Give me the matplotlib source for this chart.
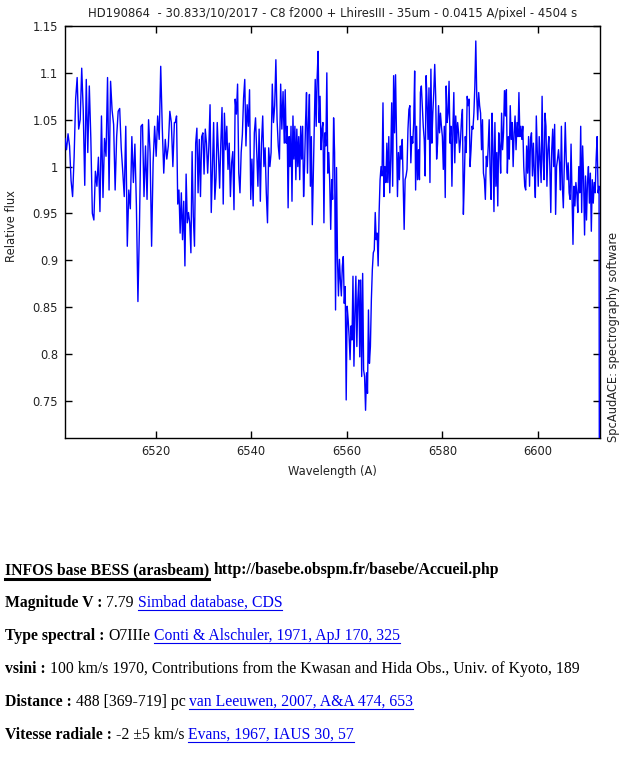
import numpy as np
import matplotlib
matplotlib.use('Agg')
import matplotlib.pyplot as plt
from matplotlib.lines import Line2D

W, H = 640, 770

# ---------------- data ----------------
seg1_range = (6501.0, 6523.9)
seg1_flux = [1.030, 1.018, 1.035, 1.022, 0.985, 0.968, 1.010, 1.072, 1.095, 1.040,
             1.050, 1.105, 1.060, 0.980, 1.093, 1.015, 1.086, 1.030, 0.950, 0.943,
             0.995, 0.979, 1.010, 0.952, 1.054, 0.967, 1.030, 1.011, 1.095, 0.975,
             1.091, 1.060, 1.045, 0.975, 1.032, 1.059, 1.062, 1.020, 0.995, 0.968,
             1.043, 0.915, 0.975, 0.955, 1.032, 0.983, 1.024, 0.958, 0.856, 0.936,
             1.043, 1.045, 0.968, 1.022, 0.965, 1.050, 1.015, 0.915, 1.004, 1.043,
             1.011, 1.054, 1.029, 1.107, 1.043, 0.993, 1.029, 1.008, 1.022, 1.059,
             1.047, 1.000, 1.047]

seg2_range = (6524.1, 6546.9)
seg2_flux = [1.047, 1.054, 0.960, 0.975, 0.929, 0.972, 0.922, 0.963, 0.894, 0.992,
             0.940, 0.951, 0.940, 0.908, 1.016, 0.947, 0.915, 1.025, 1.041, 0.972,
             1.029, 0.968, 1.032, 1.036, 0.992, 1.040, 1.025, 0.993, 1.022, 1.066,
             0.951, 1.000, 1.047, 0.965, 0.988, 1.047, 1.015, 0.977, 1.025, 1.063,
             0.960, 1.057, 1.018, 1.043, 0.997, 1.025, 0.968, 1.004, 1.016, 0.954,
             1.072, 1.056, 1.088, 0.993, 0.972, 1.015, 1.034, 1.073, 1.093, 1.022,
             1.066, 1.043, 1.082, 0.965, 1.008, 0.958, 1.036, 1.052, 1.015, 0.979,
             1.040, 0.963, 1.025, 1.054, 1.000, 1.020, 0.972, 0.940, 1.020, 1.000,
             1.015, 1.088, 1.047, 1.065, 1.114, 1.050, 1.022, 1.008, 1.088, 1.040,
             1.080, 1.025]

seg3_range = (6547.1, 6570.0)
seg3_flux = [1.082, 1.025, 1.043, 0.956, 1.032, 1.000, 1.043, 0.963, 1.054, 1.008,
             1.043, 0.986, 1.040, 1.000, 1.032, 0.986, 1.043, 1.008, 1.043, 0.968,
             1.000, 1.047, 1.079, 0.993, 1.047, 1.077, 0.979, 1.032, 0.938, 0.990,
             1.043, 1.093, 1.043, 1.095, 1.123, 1.047, 1.075, 1.018, 1.040, 1.047,
             0.940, 1.036, 1.022, 1.100, 0.993, 1.015, 0.983, 0.933, 0.986, 0.965,
             1.052, 1.015, 0.847, 0.999, 0.901, 0.862, 0.901, 0.879, 0.862, 0.894,
             0.904, 0.854, 0.872, 0.751, 0.851, 0.837, 0.819, 0.794, 0.830, 0.815,
             0.883, 0.787, 0.844, 0.883, 0.808, 0.858, 0.879, 0.797, 0.879, 0.776,
             0.886, 0.783, 0.776, 0.740, 0.780, 0.758, 0.847, 0.790, 0.808, 0.858,
             0.890, 0.908, 0.911, 0.951, 0.922, 0.929, 0.894, 0.951, 0.986, 1.000,
             0.990, 1.068, 0.968, 1.000, 0.983, 1.025, 0.983, 1.032, 0.972, 1.008,
             1.068, 0.979, 1.097, 1.036]

seg4_range = (6570.2, 6593.0)
seg4_flux = [1.098, 1.036, 0.968, 1.015, 0.986, 1.022, 1.008, 1.029, 0.979, 0.933,
             0.986, 0.990, 0.997, 1.040, 1.061, 1.065, 1.004, 1.032, 1.025, 1.047,
             1.102, 0.975, 1.043, 0.986, 1.018, 0.986, 1.079, 1.086, 1.065, 1.043,
             1.029, 0.990, 1.097, 1.068, 1.029, 1.084, 0.983, 1.104, 1.025, 1.057,
             1.079, 1.109, 1.075, 1.008, 1.025, 1.065, 1.036, 1.057, 1.043, 1.032,
             0.997, 1.043, 0.967, 1.086, 1.047, 1.057, 1.091, 1.025, 1.043, 0.979,
             1.040, 1.079, 1.004, 1.054, 1.025, 1.047, 1.036, 1.015, 1.029, 1.050,
             1.061, 0.949, 0.986, 1.032, 1.015, 1.075, 1.065, 1.072, 1.000, 1.018,
             1.043, 1.040, 1.057, 1.086, 1.134, 1.075, 1.050, 1.079, 1.065, 1.057,
             1.018, 1.050, 0.993, 0.986, 0.965, 1.011, 1.000, 1.022, 1.050, 0.993,
             0.965, 1.057, 1.018, 0.952, 1.047, 0.979, 1.015, 0.958, 1.036, 1.022,
             0.993, 1.057, 1.018, 1.036, 1.081]

seg5_range = (6593.2, 6612.8)
seg5_flux = [1.054, 1.082, 0.993, 1.032, 1.008, 1.065, 1.029, 1.047, 1.000, 1.036,
             1.054, 1.018, 1.047, 1.032, 1.079, 1.032, 1.043, 1.029, 1.043, 1.000,
             0.979, 0.975, 1.022, 0.993, 1.032, 0.979, 1.029, 1.036, 0.990, 1.025,
             0.993, 0.967, 1.054, 1.015, 0.979, 1.032, 1.008, 0.983, 1.075, 1.008,
             0.986, 1.057, 1.043, 0.979, 1.018, 1.032, 1.000, 0.951, 1.018, 1.040,
             1.000, 1.045, 0.949, 1.000, 1.008, 1.018, 1.004, 0.975, 1.043, 0.979,
             0.956, 1.000, 1.047, 1.008, 0.986, 1.004, 0.972, 0.965, 1.024, 0.972,
             0.917, 0.979, 0.958, 0.983, 0.972, 0.951, 1.000, 0.972, 1.043, 0.951,
             1.022, 0.986, 0.927, 0.990, 0.943, 0.983, 1.000, 0.961, 0.993, 0.931,
             0.986, 0.961, 0.983, 0.972, 1.008, 1.032, 0.972, 0.979]

end_wavelength = 6613.0
end_flux = 0.0

xticks = [6520, 6540, 6560, 6580, 6600]
xtick_labels = ['6520', '6540', '6560', '6580', '6600']
yticks = [0.75, 0.80, 0.85, 0.90, 0.95, 1.00, 1.05, 1.10, 1.15]
ytick_labels = ['0.75', '0.8', '0.85', '0.9', '0.95', '1', '1.05', '1.1', '1.15']

title = 'HD190864  - 30.833/10/2017 - C8 f2000 + LhiresIII - 35um - 0.0415 A/pixel - 4504 s'

segments = [(seg1_range, seg1_flux), (seg2_range, seg2_flux), (seg3_range, seg3_flux),
            (seg4_range, seg4_flux), (seg5_range, seg5_flux)]
wavelength = np.concatenate([np.linspace(r[0], r[1], len(f)) for r, f in segments]
                            + [[end_wavelength]])
flux = np.concatenate([np.asarray(f, float) for r, f in segments] + [[end_flux]])

# ---------------- figure ----------------
fig = plt.figure(figsize=(W / 100, H / 100), dpi=100)
fig.patch.set_facecolor('white')

L, R, T, B = 65, 600, 26, 438
ax = fig.add_axes([L / W, 1 - B / H, (R - L) / W, (B - T) / H])
ax.plot(wavelength, flux, color='#0000ff', lw=1.0, zorder=3)
ax.set_xlim(6501.0, 6613.0)
ax.set_ylim(0.7104, 1.15)
ax.set_xticks(xticks)
ax.set_xticklabels(xtick_labels)
ax.set_yticks(yticks)
ax.set_yticklabels(ytick_labels)
ax.tick_params(direction='in', length=5, width=1, top=True, right=True,
               labelsize=8.3, pad=5, colors='black', labelcolor='#222222')
for s in ax.spines.values():
    s.set_linewidth(1.0)
    s.set_color('black')

fig.text((L + R) / 2 / W, 1 - 13 / H, title, ha='center', va='center', fontsize=8.4,
         color='#222222')
fig.text(12 / W, 1 - 226 / H, 'Relative flux', rotation=90, ha='center', va='center',
         fontsize=8.3, color='#222222')
fig.text(332.5 / W, 1 - 471 / H, 'Wavelength (A)', ha='center', va='center',
         fontsize=8.3, color='#222222')
fig.text(614 / W, 1 - 442 / H, 'SpcAudACE: spectrography software', rotation=90,
         ha='center', va='bottom', fontsize=8.3, color='#222222')

# ---------------- info block ----------------
renderer = fig.canvas.get_renderer()
FS = 11.3
SPACE = 3.9
LINK = '#0000ee'


def text_line(y_base, parts):
    x = 5
    for txt, style in parts:
        kw = dict(fontfamily='Liberation Serif', fontsize=FS, va='baseline', ha='left')
        if style in ('b', 'bu'):
            kw['fontweight'] = 'bold'
            color = 'black'
        elif style == 'link':
            color = LINK
        else:
            color = 'black'
        t = fig.text(x / W, 1 - y_base / H, txt, color=color, **kw)
        bb = t.get_window_extent(renderer)
        x0, x1 = bb.x0, bb.x1
        if style == 'link':
            yy = (H - y_base - 2.5) / H
            fig.add_artist(Line2D([x0 / W, x1 / W], [yy, yy], color=LINK, lw=0.8))
        if style == 'bu':
            yy = (H - y_base - 4.5) / H
            fig.add_artist(Line2D([x0 / W, x1 / W], [yy, yy], color='black', lw=2.2))
        x = x1 + SPACE


text_line(574, [('INFOS base BESS (arasbeam)', 'bu'),
                ('http://basebe.obspm.fr/basebe/Accueil.php', 'b')])
text_line(607, [('Magnitude V :', 'b'), ('7.79', 'n'), ('Simbad database, CDS', 'link')])
text_line(640, [('Type spectral :', 'b'), ('O7IIIe', 'n'),
                ('Conti & Alschuler, 1971, ApJ 170, 325', 'link')])
text_line(673, [('vsini :', 'b'),
                ('100 km/s 1970, Contributions from the Kwasan and Hida Obs., Univ. of Kyoto, 189', 'n')])
text_line(706, [('Distance :', 'b'), ('488 [369-719] pc', 'n'),
                ('van Leeuwen, 2007, A&A 474, 653', 'link')])
text_line(739, [('Vitesse radiale :', 'b'), ('-2 \u00b15 km/s', 'n'),
                ('Evans, 1967, IAUS 30, 57', 'link')])

fig.savefig('out.png', dpi=100, facecolor='white')
